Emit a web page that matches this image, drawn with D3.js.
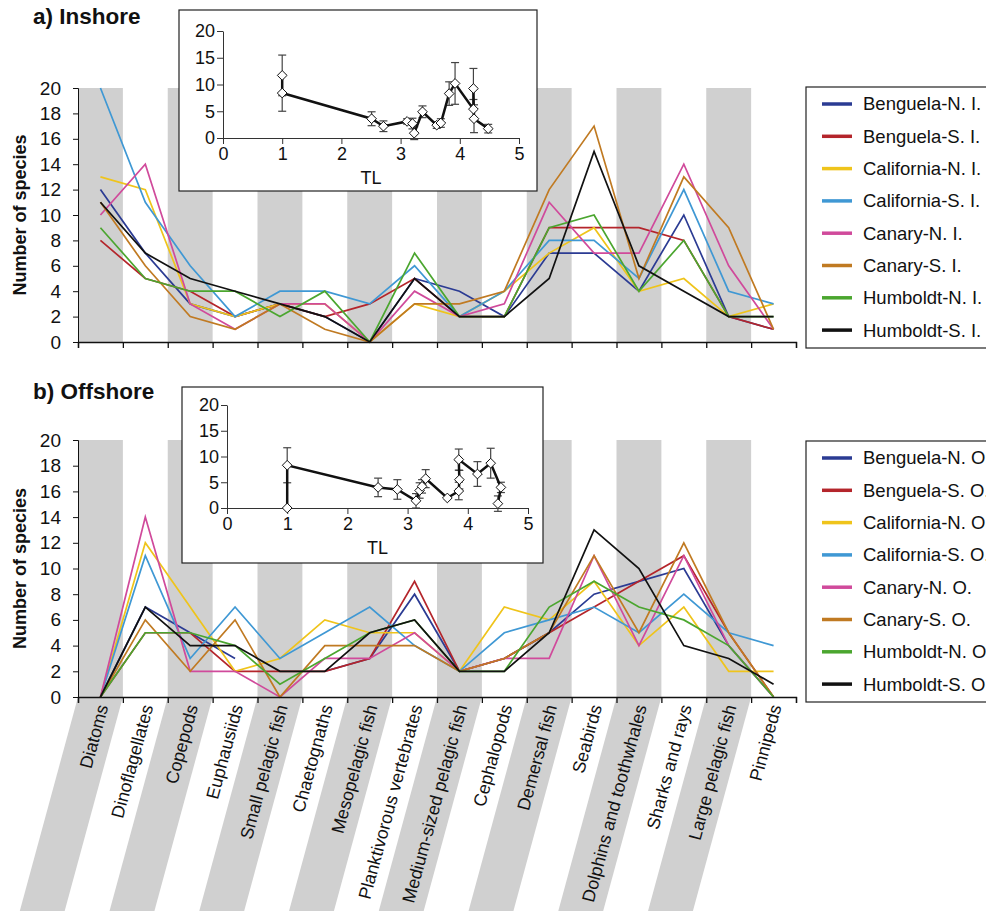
<!DOCTYPE html>
<html>
<head>
<meta charset="utf-8">
<script src="https://cdn.jsdelivr.net/npm/d3@7"></script>
<style>
  body { margin: 0; background: #fff; }
  svg { font-family: "Liberation Sans", Arial, sans-serif; }
</style>
</head>
<body>
<div id="chart"></div>
<script>
// categories along the x axis
var categories = ["Diatoms", "Dinoflagellates", "Copepods", "Euphausiids", "Small pelagic fish",
  "Chaetognaths", "Mesopelagic fish", "Planktivorous vertebrates", "Medium-sized pelagic fish",
  "Cephalopods", "Demersal fish", "Seabirds", "Dolphins and toothwhales", "Sharks and rays",
  "Large pelagic fish", "Pinnipeds"];

var systems = ["Benguela-N.", "Benguela-S.", "California-N.", "California-S.",
  "Canary-N.", "Canary-S.", "Humboldt-N.", "Humboldt-S."];
var colors = ["#2b3b93", "#b4252b", "#efc41b", "#3f98d4", "#d04a9b", "#c07a22", "#4ba62f", "#111111"];

// a) inshore, number of species per group
var inshoreBN  = [12, 7, 3, 2, 3, 2, 0, 5, 4, 2, 7, 7, 4, 10, 2, 1];
var inshoreBS  = [8, 5, 4, 2, 3, 2, 3, 5, 2, 2, 9, 9, 9, 8, 2, 1];
var inshoreCN  = [13, 12, 3, 2, 3, 3, 0, 3, 2, 4, 7, 9, 4, 5, 2, 3];
var inshoreCS  = [20, 11, 6, 2, 4, 4, 3, 6, 2, 4, 8, 8, 5, 12, 4, 3];
var inshoreCaN = [10, 14, 3, 1, 3, 3, 0, 4, 2, 3, 11, 7, 7, 14, 6, 1];
var inshoreCaS = [11, 6, 2, 1, 3, 1, 0, 3, 3, 4, 12, 17, 5, 13, 9, 1];
var inshoreHN  = [9, 5, 4, 4, 2, 4, 0, 7, 2, 2, 9, 10, 4, 8, 2, 2];
var inshoreHS  = [11, 7, 5, 4, 3, 2, 0, 5, 2, 2, 5, 15, 6, 4, 2, 2];

// b) offshore
var offshoreBN  = [0, 7, 5, 3, null, 2, 3, 8, 2, 3, 5, 8, 9, 10, 4, 0];
var offshoreBS  = [0, 5, 5, 2, 2, 2, 3, 9, 2, 3, 5, 7, 9, 11, 5, 0];
var offshoreCN  = [0, 12, 7, 2, 3, 6, 5, 5, 2, 7, 6, 9, 4, 7, 2, 2];
var offshoreCS  = [0, 11, 3, 7, 3, 5, 7, 4, 2, 5, 6, 7, 5, 8, 5, 4];
var offshoreCaN = [0, 14, 2, 2, 0, 3, 3, 5, 2, 3, 3, 11, 4, 11, 4, 0];
var offshoreCaS = [0, 6, 2, 6, 0, 4, 4, 4, 2, 3, 5, 11, 5, 12, 5, 0];
var offshoreHN  = [0, 5, 5, 4, 1, 3, 5, 6, 2, 2, 7, 9, 7, 6, 4, 0];
var offshoreHS  = [0, 7, 4, 4, 2, 2, 5, 6, 2, 2, 5, 13, 10, 4, 3, 1];

// insets: mean species vs trophic level (TL), with error
var inTL   = [1, 1, 2.51, 2.71, 3.11, 3.2, 3.23, 3.37, 3.61, 3.68, 3.82, 3.92, 4.23, 4.23, 4.24, 4.48];
var inMean = [11.7, 8.4, 3.6, 2.2, 3.1, 2.7, 0.9, 4.9, 2.4, 2.8, 8.3, 10.2, 5.4, 9.25, 3.6, 1.75];
var inErr  = [3.8, 3.4, 1.3, 1.0, 0.5, 1.0, 1.2, 1.1, 0.6, 0.8, 2.2, 3.9, 1.8, 3.75, 2.6, 0.8];

var offTL   = [1, 1, 2.51, 2.83, 3.14, 3.2, 3.24, 3.3, 3.66, 3.85, 3.86, 3.85, 4.16, 4.38, 4.55, 4.5];
var offMean = [0, 8.3, 4.0, 3.6, 1.4, 3.4, 4.2, 5.7, 1.95, 3.3, 5.5, 9.4, 6.6, 8.7, 4.0, 0.85];
var offErr  = [0, 3.4, 1.8, 1.9, 1.4, 1.5, 1.3, 1.75, 0, 1.7, 1.8, 2.05, 2.4, 2.9, 1.0, 1.5];

var yTicks = [0, 2, 4, 6, 8, 10, 12, 14, 16, 18, 20];
var insetYTicks = [0, 5, 10, 15, 20];
var insetXTicks = [0, 1, 2, 3, 4, 5];

var svg = d3.select("#chart").append("svg")
  .attr("width", 986)
  .attr("height", 911);

var x = d3.scaleBand().domain(categories).range([78, 796]).padding(0);
var xi = d3.scaleLinear().domain([0, categories.length]).range([78, 796]);

function drawPanel(opts) {
  var y = d3.scaleLinear().domain([0, 20]).range([opts.bottom, opts.top]);
  var g = svg.append("g");

  // grey bands on every other group
  var even = categories.filter(function(d, i) { return i % 2 == 0; });
  g.selectAll(".band").data(even).enter().append("rect")
    .attr("x", function(d) { return x(d); })
    .attr("y", y(20))
    .attr("width", x.bandwidth())
    .attr("height", y(0) - y(20))
    .attr("fill", "#d0d0d0");

  if (opts.labels) {
    var slant = 0.272, bottomY = 911;
    g.selectAll(".slant").data(even).enter().append("path")
      .attr("d", function(d) {
        var x0 = x(d), x1 = x(d) + x.bandwidth(), dy = bottomY - y(0);
        return "M" + x0 + "," + y(0) + "L" + x1 + "," + y(0) +
          "L" + (x1 - dy * slant) + "," + bottomY + "L" + (x0 - dy * slant) + "," + bottomY + "Z";
      })
      .attr("fill", "#d0d0d0");
  }

  // lines
  var line = d3.line()
    .defined(function(d) { return d != null; })
    .x(function(d, i) { return x(categories[i]) + x.bandwidth() / 2; })
    .y(function(d) { return y(d); });

  g.selectAll(".series").data(opts.series).enter().append("path")
    .attr("fill", "none")
    .attr("stroke", function(d, i) { return colors[i]; })
    .attr("stroke-width", 1.7)
    .attr("stroke-linejoin", "miter")
    .attr("d", line);

  // axes
  var ay = g.append("g")
    .attr("transform", "translate(78,0)")
    .call(d3.axisLeft(y).tickValues(yTicks).tickSize(5).tickPadding(12))
    .attr("font-family", null);
  ay.selectAll("text").style("font-size", "19px").attr("fill", "#111");
  ay.selectAll("line, path").attr("stroke", "#111");

  var ax = g.append("g")
    .attr("transform", "translate(0," + y(0) + ")")
    .call(d3.axisBottom(xi).ticks(16).tickSize(6).tickSizeOuter(6).tickFormat(""));
  ax.selectAll("line, path").attr("stroke", "#111").attr("stroke-width", 1.3);

  if (opts.labels) {
    g.selectAll(".cat").data(categories).enter().append("text")
      .attr("transform", function(d) {
        return "translate(" + (x(d) + x.bandwidth() / 2 + 2) + "," + (y(0) + 8) + ") rotate(-74.8)";
      })
      .attr("text-anchor", "end")
      .attr("dy", "0.35em")
      .style("font-size", "17.8px")
      .attr("fill", "#111")
      .text(function(d) { return d; });
  }

  // y title and panel title
  g.append("text")
    .attr("transform", "translate(26," + ((y(0) + y(20)) / 2) + ") rotate(-90)")
    .attr("text-anchor", "middle")
    .style("font-size", "18px")
    .style("font-weight", "bold")
    .attr("fill", "#111")
    .text("Number of species");

  g.append("text")
    .attr("x", 33).attr("y", opts.titleY)
    .style("font-size", "22.5px")
    .style("font-weight", "bold")
    .attr("fill", "#111")
    .text(opts.title);

  // legend
  var lg = g.append("g");
  lg.append("rect")
    .attr("x", 806).attr("y", opts.legendTop)
    .attr("width", 200).attr("height", 261)
    .attr("fill", "#fff").attr("stroke", "#222").attr("stroke-width", 1.2);
  var items = lg.selectAll(".item").data(systems).enter().append("g")
    .attr("transform", function(d, i) { return "translate(0," + (opts.legendTop + 17 + i * 32.3) + ")"; });
  items.append("line")
    .attr("x1", 822).attr("x2", 852)
    .attr("stroke", function(d, i) { return colors[i]; })
    .attr("stroke-width", 3.5);
  items.append("text")
    .attr("x", 863).attr("dy", "0.35em")
    .style("font-size", "18.5px")
    .attr("fill", "#111")
    .text(function(d) { return d + " " + opts.suffix; });

  // inset
  var ins = opts.inset;
  var ig = g.append("g");
  ig.append("rect")
    .attr("x", ins.box[0]).attr("y", ins.box[1])
    .attr("width", ins.box[2] - ins.box[0]).attr("height", ins.box[3] - ins.box[1])
    .attr("fill", "#fff").attr("stroke", "#222").attr("stroke-width", 1.2);
  var tx = d3.scaleLinear().domain([0, 5]).range([ins.x0, ins.x5]);
  var ty = d3.scaleLinear().domain([0, 20]).range([ins.y0, ins.y20]);

  var iax = ig.append("g").attr("transform", "translate(0," + ins.y0 + ")")
    .call(d3.axisBottom(tx).tickValues(insetXTicks).tickFormat(d3.format("d"))
      .tickSize(6).tickSizeOuter(0).tickPadding(3))
    .attr("font-family", null);
  iax.selectAll("text").style("font-size", "18px").attr("fill", "#111");
  iax.selectAll("line, path").attr("stroke", "#333");
  var iay = ig.append("g").attr("transform", "translate(" + ins.x0 + ",0)")
    .call(d3.axisLeft(ty).tickValues(insetYTicks).tickSize(6).tickSizeOuter(0).tickPadding(2))
    .attr("font-family", null);
  iay.selectAll("text").style("font-size", "18px").attr("fill", "#111");
  iay.selectAll("line, path").attr("stroke", "#333");
  ig.append("text")
    .attr("x", (ins.x0 + ins.x5) / 2).attr("y", ins.y0 + 46)
    .attr("text-anchor", "middle")
    .style("font-size", "18px")
    .attr("fill", "#111")
    .text("TL");

  var pts = ins.tl.map(function(t, i) { return { tl: t, m: ins.mean[i], e: ins.err[i] }; });
  var eb = ig.selectAll(".err").data(pts.filter(function(d) { return d.e > 0; })).enter().append("g")
    .attr("stroke", "#444").attr("stroke-width", 1.2);
  eb.append("line")
    .attr("x1", function(d) { return tx(d.tl); }).attr("x2", function(d) { return tx(d.tl); })
    .attr("y1", function(d) { return ty(d.m - d.e); }).attr("y2", function(d) { return ty(d.m + d.e); });
  eb.append("line")
    .attr("x1", function(d) { return tx(d.tl) - 4; }).attr("x2", function(d) { return tx(d.tl) + 4; })
    .attr("y1", function(d) { return ty(d.m + d.e); }).attr("y2", function(d) { return ty(d.m + d.e); });
  eb.append("line")
    .attr("x1", function(d) { return tx(d.tl) - 4; }).attr("x2", function(d) { return tx(d.tl) + 4; })
    .attr("y1", function(d) { return ty(d.m - d.e); }).attr("y2", function(d) { return ty(d.m - d.e); });

  ig.append("path")
    .datum(pts)
    .attr("fill", "none")
    .attr("stroke", "#111")
    .attr("stroke-width", 2.5)
    .attr("d", d3.line().x(function(d) { return tx(d.tl); }).y(function(d) { return ty(d.m); }));

  ig.selectAll(".pt").data(pts).enter().append("path")
    .attr("d", d3.symbol().type(d3.symbolDiamond2).size(60))
    .attr("transform", function(d) { return "translate(" + tx(d.tl) + "," + ty(d.m) + ")"; })
    .attr("fill", "#fff")
    .attr("stroke", "#111")
    .attr("stroke-width", 1);
}

drawPanel({
  top: 88, bottom: 342, labels: false,
  series: [inshoreBN, inshoreBS, inshoreCN, inshoreCS, inshoreCaN, inshoreCaS, inshoreHN, inshoreHS],
  title: "a) Inshore", titleY: 24, suffix: "I.", legendTop: 87,
  inset: { box: [179, 10, 537, 191], x0: 223, x5: 519, y0: 138, y20: 31,
    tl: inTL, mean: inMean, err: inErr }
});

drawPanel({
  top: 440, bottom: 697, labels: true,
  series: [offshoreBN, offshoreBS, offshoreCN, offshoreCS, offshoreCaN, offshoreCaS, offshoreHN, offshoreHS],
  title: "b) Offshore", titleY: 399, suffix: "O.", legendTop: 441,
  inset: { box: [182, 387, 543, 563], x0: 227, x5: 528, y0: 508, y20: 405,
    tl: offTL, mean: offMean, err: offErr }
});
</script>
</body>
</html>
